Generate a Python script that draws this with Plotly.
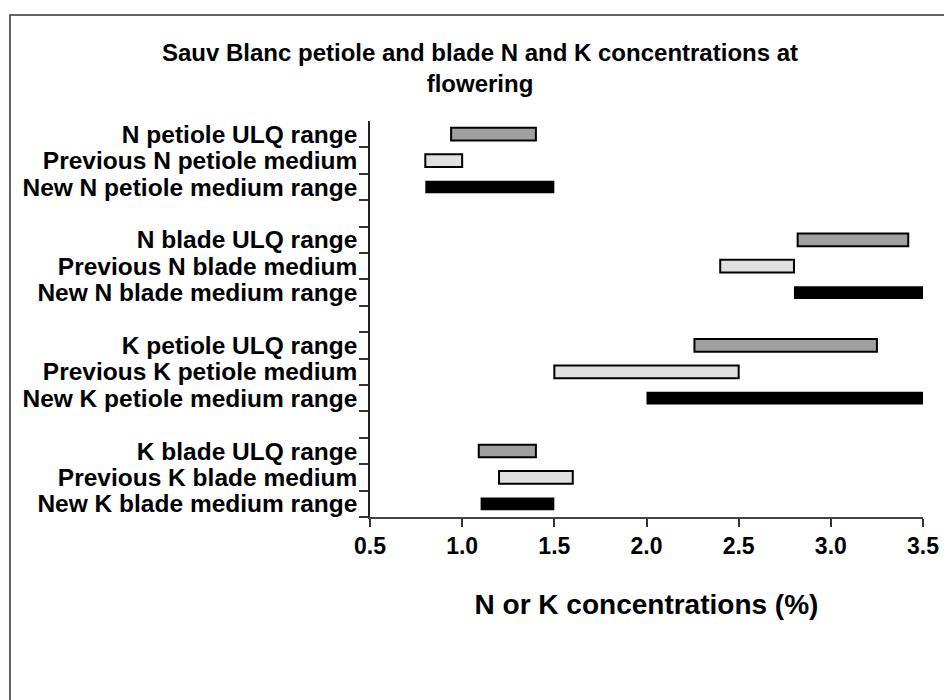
import plotly.graph_objects as go

# Categories, top to bottom (blank entries are the gaps between groups)
categories = [
    "N petiole ULQ range", "Previous N petiole medium", "New N petiole medium range", " ",
    "N blade ULQ range", "Previous N blade medium", "New N blade medium range", "  ",
    "K petiole ULQ range", "Previous K petiole medium", "New K petiole medium range", "   ",
    "K blade ULQ range", "Previous K blade medium", "New K blade medium range",
]

ulq_labels = ["N petiole ULQ range", "N blade ULQ range", "K petiole ULQ range", "K blade ULQ range"]
ulq_low = [0.94, 2.82, 2.26, 1.09]
ulq_high = [1.40, 3.42, 3.25, 1.40]

prev_labels = ["Previous N petiole medium", "Previous N blade medium", "Previous K petiole medium", "Previous K blade medium"]
prev_low = [0.80, 2.40, 1.50, 1.20]
prev_high = [1.00, 2.80, 2.50, 1.60]

new_labels = ["New N petiole medium range", "New N blade medium range", "New K petiole medium range", "New K blade medium range"]
new_low = [0.80, 2.80, 2.00, 1.10]
new_high = [1.50, 3.50, 3.50, 1.50]

x_ticks = [0.5, 1.0, 1.5, 2.0, 2.5, 3.0, 3.5]
x_tick_text = ["0.5", "1.0", "1.5", "2.0", "2.5", "3.0", "3.5"]

FONT = "Arial, Liberation Sans, sans-serif"

fig = go.Figure()

def add_range(labels, low, high, fill, line_w):
    fig.add_trace(go.Bar(
        y=labels,
        x=[h - l for l, h in zip(low, high)],
        base=low,
        orientation="h",
        width=0.48,
        marker=dict(color=fill, line=dict(color="#000000", width=line_w)),
        showlegend=False,
        hoverinfo="skip",
    ))

add_range(ulq_labels, ulq_low, ulq_high, "#A0A0A0", 2)
add_range(prev_labels, prev_low, prev_high, "#E0E0E0", 2)
add_range(new_labels, new_low, new_high, "#000000", 0)

# page body has an 8px margin, so the figure is sized/offset to compensate
W, H = 944, 692
L, R, T, B = 362, 29, 113, 183
pw, ph = W - L - R, H - T - B

def px_x(p):
    return (p - L) / pw

def px_y(p):
    return (H - B - p) / ph

fig.update_layout(
    width=W, height=H,
    margin=dict(l=L, r=R, t=T, b=B, pad=0),
    paper_bgcolor="white", plot_bgcolor="white",
    barmode="overlay",
    font=dict(family=FONT, color="#000000"),
    title=dict(
        text="<b>Sauv Blanc petiole and blade N and K concentrations at<br>flowering</b>",
        x=472 / W, xanchor="center", xref="container",
        y=1 - 53 / H, yanchor="top", yref="container",
        font=dict(size=24, family=FONT, color="#000000"),
    ),
    xaxis=dict(
        range=[0.5, 3.5],
        tickvals=x_ticks, ticktext=x_tick_text,
        ticks="outside", ticklen=8, tickwidth=1.5, tickcolor="#333333",
        ticklabelstandoff=0,
        showline=True, linecolor="#444444", linewidth=1.5,
        showgrid=False, zeroline=False,
        tickfont=dict(size=23, family=FONT, color="#000000", weight="bold"),
        title=dict(text="<b>N or K concentrations (%)</b>", standoff=36,
                   font=dict(size=28, family=FONT, color="#000000")),
    ),
    yaxis=dict(
        type="category",
        categoryorder="array", categoryarray=categories[::-1],
        tickmode="array", tickvals=categories, ticktext=categories,
        range=[-0.5, len(categories) - 0.5],
        tickson="boundaries",
        ticks="outside", ticklen=9, tickwidth=1.5, tickcolor="#333333",
        ticklabelstandoff=6,
        showline=True, linecolor="#222222", linewidth=1.5,
        showgrid=False, zeroline=False,
        tickfont=dict(size=24.5, family=FONT, color="#000000", weight="bold"),
    ),
    shapes=[dict(
        type="rect", xref="paper", yref="paper",
        x0=px_x(2), x1=px_x(W + 30), y0=px_y(H + 30), y1=px_y(7),
        line=dict(color="#333333", width=1.5), fillcolor="rgba(0,0,0,0)", layer="below",
    )],
)

fig.write_html("out.html")
